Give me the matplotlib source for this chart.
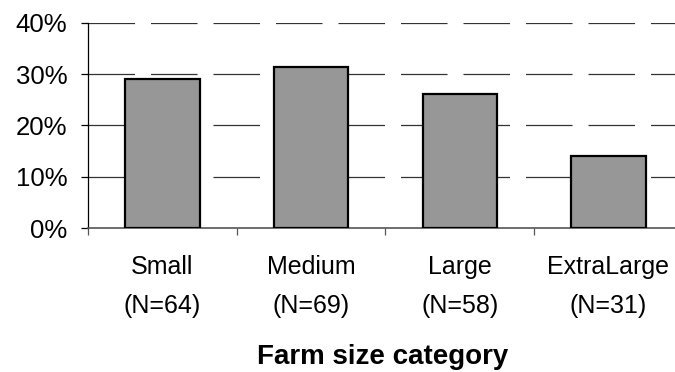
import matplotlib
matplotlib.use("Agg")
import matplotlib.pyplot as plt
import numpy as np

categories = ["Small", "Medium", "Large", "ExtraLarge"]
counts = ["(N=64)", "(N=69)", "(N=58)", "(N=31)"]
values = [0.29, 0.314, 0.261, 0.141]
yticks = [0.0, 0.1, 0.2, 0.3, 0.4]
ytick_labels = ["0%", "10%", "20%", "30%", "40%"]
xlabel = "Farm size category"

plt.rcParams['font.family'] = ['Liberation Sans', 'DejaVu Sans']
plt.rcParams['lines.scale_dashes'] = False

fig = plt.figure(figsize=(6.75, 3.72), dpi=100)
ax = fig.add_axes([88/675, 144/372, 594.8/675, (349.3-144)/372])

x = np.arange(len(categories))
ax.set_xlim(-0.5, len(categories) - 0.5)
ax.set_ylim(0, 0.4)

for yv in yticks[1:]:
    ax.axhline(yv, color="#333333", lw=0.9, dashes=(33.5, 11.5), zorder=1)

ax.bar(x, values, width=0.5, color="#979797", edgecolor="black", linewidth=1.6, zorder=3)

ax.set_yticks(yticks)
ax.set_yticklabels(ytick_labels, fontsize=18.5)
ax.set_xticks(np.arange(len(categories) + 1) - 0.5)
ax.set_xticklabels([""] * (len(categories) + 1))
ax.tick_params(axis='y', direction='out', length=5, width=0.9, pad=10, colors='black')
ax.tick_params(axis='x', direction='out', length=5, width=0.9, colors='#555555')

for s in ["top", "right"]:
    ax.spines[s].set_visible(False)
ax.spines["left"].set_linewidth(0.9)
ax.spines["left"].set_color("black")
ax.spines["bottom"].set_linewidth(1.2)
ax.spines["bottom"].set_color("#555555")

labels = [f"{c}\n{n}" for c, n in zip(categories, counts)]
for xi, lab in zip(x, labels):
    ax.text(xi, -0.053, lab, ha="center", va="top", fontsize=18, linespacing=1.78)

fig.text(383/675, 1 - 357/372, xlabel, ha="center", va="center",
         fontsize=20, fontweight="bold")

fig.savefig("out.png", dpi=100)
